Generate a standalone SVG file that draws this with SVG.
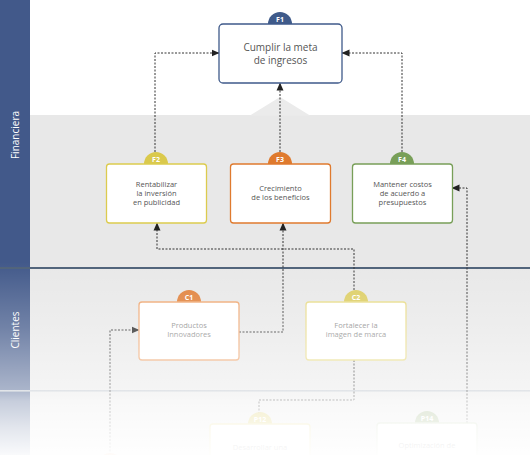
<svg xmlns="http://www.w3.org/2000/svg" width="530" height="455" viewBox="0 0 530 455">
<defs>
<marker id="arr" markerUnits="userSpaceOnUse" markerWidth="8" markerHeight="8" refX="7.5" refY="4" orient="auto">
<path d="M0,0.5 L8,4 L0,7.5 z" fill="#222"/>
</marker>
<linearGradient id="fade" gradientUnits="userSpaceOnUse" x1="0" y1="262" x2="0" y2="455">
<stop offset="0" stop-color="#fff" stop-opacity="0"/>
<stop offset="0.34" stop-color="#fff" stop-opacity="0.25"/>
<stop offset="0.66" stop-color="#fff" stop-opacity="0.55"/>
<stop offset="0.72" stop-color="#fff" stop-opacity="0.7"/>
<stop offset="0.87" stop-color="#fff" stop-opacity="0.86"/>
<stop offset="1" stop-color="#fff" stop-opacity="0.97"/>
</linearGradient>
<style>
.box{fill:#fff;stroke-width:1.3}
.t{font-family:"Open Sans","Liberation Sans",sans-serif;fill:#555;text-anchor:middle}
.big{font-size:10px}
.sm{font-size:7.5px}
.cl{fill:#888}
.bt{font-family:"Open Sans","Liberation Sans",sans-serif;font-size:7px;font-weight:bold;fill:#fff;text-anchor:middle}
.lane{font-family:"Open Sans","Liberation Sans",sans-serif;font-size:10px;fill:#fff;text-anchor:middle}
.c{fill:none;stroke:#333;stroke-width:1;stroke-dasharray:2,1.5}
</style>
</defs>
<!-- backgrounds -->
<rect x="0" y="0" width="530" height="455" fill="#e8e8e8"/>
<rect x="30" y="0" width="500" height="115" fill="#fff"/>
<polygon points="250,115.5 280,97 310,115.5" fill="#ebebeb"/>
<rect x="0" y="0" width="30" height="455" fill="#42598a"/>
<rect x="0" y="267" width="530" height="2" fill="#4e6178"/>
<rect x="0" y="390" width="530" height="1.6" fill="#bcc3cc"/>
<text class="lane" transform="translate(18.5,135) rotate(-90)">Financiera</text>
<text class="lane" transform="translate(18.5,330) rotate(-90)">Clientes</text>
<!-- connectors -->
<g id="connectors">
<path class="c" d="M155,152 V53 H219" marker-end="url(#arr)"/>
<path class="c" d="M280,152 V83" marker-end="url(#arr)"/>
<path class="c" d="M402,152 V53 H342" marker-end="url(#arr)"/>
<path class="c" d="M354,290 V249 H157 V223" marker-end="url(#arr)"/>
<path class="c" d="M239,332 H283 V223" marker-end="url(#arr)"/>
<path class="c" d="M467,462 V188 H452" marker-end="url(#arr)"/>
<path class="c" d="M354,360 V400 H259 V414"/>
<path class="c" d="M110,455 V330 H139" marker-end="url(#arr)"/>
</g>
<!-- nodes -->
<g id="F1">
<circle cx="280" cy="24" r="12" fill="#3f5a8a"/>
<rect class="box" x="219" y="24" width="123" height="59" rx="4" stroke="#3f5a8a"/>
<text class="bt" x="280" y="21.5">F1</text>
<text class="t big" x="280.5" y="51">Cumplir la meta</text>
<text class="t big" x="280.5" y="63.5">de ingresos</text>
</g>
<g id="F2">
<circle cx="156" cy="164" r="12" fill="#dac94c"/>
<rect class="box" x="106.5" y="164" width="100" height="59" rx="3" stroke="#dccb4e"/>
<text class="bt" x="156" y="161.5">F2</text>
<text class="t sm" x="156.5" y="187">Rentabilizar</text>
<text class="t sm" x="156.5" y="196">la inversión</text>
<text class="t sm" x="156.5" y="205">en publicidad</text>
</g>
<g id="F3">
<circle cx="280" cy="164" r="12" fill="#df7a2e"/>
<rect class="box" x="230.5" y="164" width="100" height="59" rx="3" stroke="#df7a2e"/>
<text class="bt" x="280" y="161.5">F3</text>
<text class="t sm" x="280.5" y="191">Crecimiento</text>
<text class="t sm" x="280.5" y="200">de los beneficios</text>
</g>
<g id="F4">
<circle cx="402" cy="164" r="12" fill="#789f58"/>
<rect class="box" x="352.5" y="164" width="100" height="59" rx="3" stroke="#789f58"/>
<text class="bt" x="402" y="161.5">F4</text>
<text class="t sm" x="402.5" y="187">Mantener costos</text>
<text class="t sm" x="402.5" y="196">de acuerdo a</text>
<text class="t sm" x="402.5" y="205">presupuestos</text>
</g>
<g id="C1">
<circle cx="189" cy="302" r="12" fill="#e0803a"/>
<rect class="box" x="139" y="302" width="100" height="58" rx="3" stroke="#eea670"/>
<text class="bt" x="189" y="299.5">C1</text>
<text class="t sm cl" x="189" y="328">Productos</text>
<text class="t sm cl" x="189" y="337">Innovadores</text>
</g>
<g id="C2">
<circle cx="356" cy="302" r="12" fill="#dccd62"/>
<rect class="box" x="306" y="302" width="100" height="58" rx="3" stroke="#e8db88"/>
<text class="bt" x="356" y="299.5">C2</text>
<text class="t sm cl" x="356" y="328">Fortalecer la</text>
<text class="t sm cl" x="356" y="337">imagen de marca</text>
</g>
<g id="P12">
<circle cx="260" cy="424" r="12" fill="#dccd62"/>
<rect class="box" x="210" y="424" width="100" height="58" rx="3" stroke="#e8db88"/>
<text class="bt" x="260" y="421.5">P12</text>
<text class="t sm" x="260" y="450">Desarrollar una</text>
</g>
<g id="P14">
<circle cx="427" cy="423" r="12" fill="#9ab380"/>
<rect class="box" x="377" y="423" width="100" height="58" rx="3" stroke="#c8d6b8"/>
<text class="bt" x="427" y="420.5">P14</text>
<text class="t sm" x="427" y="448">Optimización de</text>
</g>
<g id="P-left">
<circle cx="110" cy="465" r="12" fill="#e0803a"/>
</g>
<!-- bottom fade -->
<rect x="0" y="262" width="530" height="193" fill="url(#fade)"/>
</svg>
